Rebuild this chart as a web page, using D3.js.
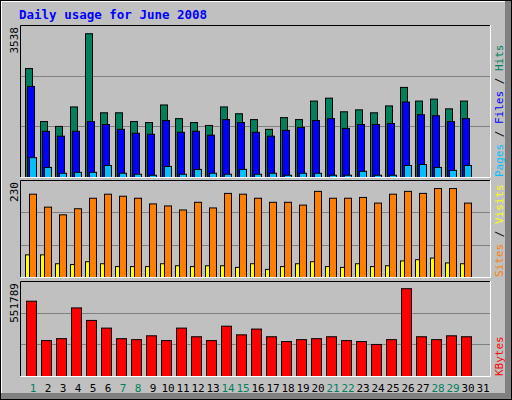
<!DOCTYPE html>
<html lang="en">
<head>
<meta charset="UTF-8">
<title>Daily usage for June 2008</title>
<style>
    body { margin: 0; background: #c0c0c0; }
    svg text { font-family: "DejaVu Sans Mono", monospace; }
</style>
</head>
<body>
<svg width="512" height="400"></svg>
<script src="https://d3js.org/d3.v7.min.js"></script>
<script>
// values
const days = d3.range(1, 32);
const weekendDays = [1, 7, 8, 14, 15, 21, 22, 28, 29];
const hits = [2605, 1337, 1221, 1687, 3437, 1547, 1547, 1337, 1314, 1734, 1407, 1314, 1244, 1687, 1524,
    1384, 1151, 1431, 1384, 1827, 1897, 1571, 1617, 1547, 1711, 2154, 1827, 1874, 1641, 1827];
const files = [2177, 1104, 988, 1104, 1337, 1267, 1151, 1058, 1034, 1361, 1081, 1104, 1011, 1384, 1314,
    1081, 988, 1127, 1197, 1361, 1407, 1174, 1267, 1267, 1291, 1804, 1501, 1477, 1337, 1407];
const pages = [474, 241, 101, 124, 124, 288, 101, 78, 54, 264, 78, 194, 101, 78, 194,
    78, 101, 54, 101, 101, 54, 54, 148, 54, 54, 288, 311, 241, 171, 288];
const sites = [206, 174, 155, 170, 196, 206, 201, 196, 182, 177, 167, 186, 172, 208, 206,
    196, 186, 186, 179, 213, 196, 196, 198, 184, 206, 213, 208, 220, 220, 184];
const visits = [56, 56, 34, 32, 39, 34, 27, 27, 27, 34, 29, 27, 29, 29, 25,
    34, 20, 27, 34, 39, 27, 25, 34, 27, 29, 41, 44, 48, 36, 34];
const kbytes = [456587, 217606, 229262, 415787, 340010, 293380, 229262, 223434, 246750, 217606, 293380,
    240921, 217606, 305038, 252579, 287551, 240921, 211777, 223434, 229262, 240921, 217606, 211777,
    194291, 223434, 532359, 240921, 223434, 246750, 240921];
const maxHits = 3538, maxSites = 230, maxKbytes = 551789;

const svg = d3.select("svg");
const W = 512, H = 400;

// frame with bevel
svg.append("rect").attr("width", W).attr("height", H).attr("fill", "#c0c0c0");
svg.append("rect").attr("x", 505).attr("y", 0).attr("width", 7).attr("height", H).attr("fill", "#808080");
svg.append("rect").attr("x", 0).attr("y", 393).attr("width", W).attr("height", 7).attr("fill", "#808080");
svg.append("rect").attr("x", 0.5).attr("y", 0.5).attr("width", W - 1).attr("height", H - 1)
    .attr("fill", "none").attr("stroke", "#000");
svg.append("line").attr("x1", 1).attr("x2", 505).attr("y1", 1.5).attr("y2", 1.5).attr("stroke", "#fff");
svg.append("line").attr("x1", 1.5).attr("x2", 1.5).attr("y1", 1).attr("y2", 393).attr("stroke", "#fff");

svg.append("text").attr("x", 19).attr("y", 19)
    .attr("fill", "#0000ff").attr("font-size", 12.5).attr("font-weight", "bold")
    .text("Daily usage for June 2008");

const x = d3.scaleBand().domain(days).range([20, 485]).paddingInner(0).paddingOuter(0);

function panel(top, bottom, max, label, series, legend) {
    const y = d3.scaleLinear().domain([0, max]).range([bottom, top + 4]);
    const g = svg.append("g");
    g.append("rect").attr("x", 20).attr("y", top).attr("width", 471).attr("height", bottom - top)
        .attr("fill", "#c0c0c0");
    // gridlines at thirds
    [1, 2].forEach(k => {
        const gy = Math.round(bottom - (bottom - top) * k / 3) + 0.5;
        g.append("line").attr("x1", 21).attr("x2", 490).attr("y1", gy).attr("y2", gy)
            .attr("stroke", "#808080");
    });
    series.forEach(s => {
        g.selectAll(null).data(s.values).enter().append("rect")
            .attr("x", (d, i) => x(days[i]) + s.dx + 0.5)
            .attr("y", d => y(d) + 0.5)
            .attr("width", s.w)
            .attr("height", d => bottom - y(d))
            .attr("fill", s.color).attr("stroke", "#000").attr("stroke-width", 1);
    });
    // borders: black top/left, white bottom/right
    g.append("path").attr("d", `M20.5,${bottom}V${top + 0.5}H491`).attr("fill", "none").attr("stroke", "#000");
    g.append("path").attr("d", `M20.5,${bottom + 0.5}H490.5V${top}`).attr("fill", "none").attr("stroke", "#fff");
    g.append("text").attr("transform", `translate(18,${top + 2}) rotate(-90)`)
        .attr("text-anchor", "end").attr("font-size", 11).attr("fill", "#000").text(label);
    const t = g.append("text").attr("transform", `translate(503,${bottom}) rotate(-90)`)
        .attr("font-size", 11);
    legend.forEach((l, i) => {
        if (i > 0) t.append("tspan").attr("fill", "#000").text(" / ");
        t.append("tspan").attr("fill", l[1]).text(l[0]);
    });
}

panel(25, 177, maxHits, String(maxHits), [
    { values: hits, dx: 5, w: 7, color: "#00805c" },
    { values: files, dx: 7, w: 7, color: "#0000ff" },
    { values: pages, dx: 9, w: 7, color: "#00c0ff" }
], [["Pages", "#00c0ff"], ["Files", "#0000ff"], ["Hits", "#00805c"]]);

panel(180, 277, maxSites, String(maxSites), [
    { values: visits, dx: 5, w: 4, color: "#ffff00" },
    { values: sites, dx: 9, w: 7, color: "#ff8000" }
], [["Sites", "#ff8000"], ["Visits", "#ffff00"]]);

panel(281, 376, maxKbytes, String(maxKbytes), [
    { values: kbytes, dx: 6, w: 10, color: "#ff0000" }
], [["KBytes", "#ff0000"]]);

svg.selectAll(".day").data(days).enter().append("text")
    .attr("x", d => x(d) + x.bandwidth() / 2 + 5.5)
    .attr("y", 392).attr("text-anchor", "middle").attr("font-size", 11)
    .attr("fill", d => weekendDays.includes(d) ? "#00805c" : "#000")
    .text(d => d);
</script>
</body>
</html>
